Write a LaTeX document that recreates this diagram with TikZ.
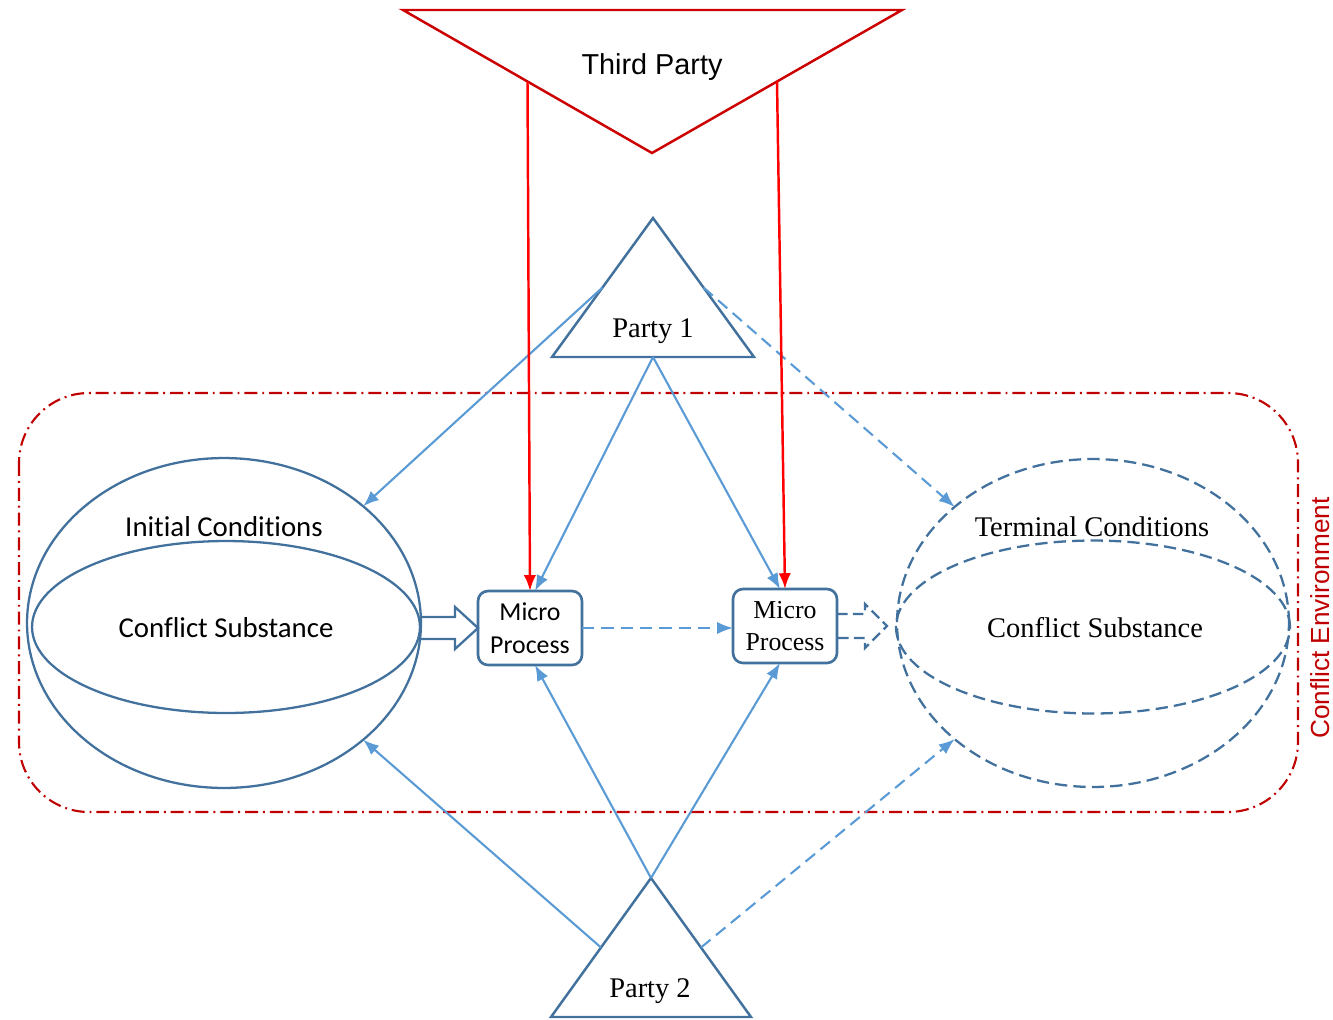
\documentclass[tikz,border=0pt]{standalone}
\usepackage{fontspec}
\setmainfont{Liberation Serif}
\newfontfamily\arialfont{Liberation Sans}
\newfontfamily\calibrifont[Ligatures=NoCommon]{Carlito}
\usetikzlibrary{shapes.geometric,arrows.meta,calc}

\definecolor{outlineblue}{RGB}{65,113,156}
\definecolor{arrowblue}{RGB}{91,155,213}
\definecolor{framered}{RGB}{192,0,0}
\definecolor{thirdred}{RGB}{204,0,0}

\begin{document}
\begin{tikzpicture}[x=0.02cm,y=-0.02cm,
    every node/.style={inner sep=0pt,outer sep=0pt},
    party/.style={draw=outlineblue,fill=white,line width=1.4pt},
    sphere/.style={ellipse,draw=outlineblue,line width=1.3pt},
    dsphere/.style={sphere,dash pattern=on 7pt off 3.5pt},
    microbox/.style={draw=outlineblue,fill=white,line width=1.5pt,rounded corners=0.2cm,
      minimum width=2.08cm,minimum height=1.48cm,align=center},
    link/.style={draw=arrowblue,line width=1.2pt,-{Latex[length=9pt,width=7pt]}},
    dlink/.style={link,dash pattern=on 7pt off 4pt},
    mediate/.style={draw=red,line width=1.4pt,-{Latex[length=9pt,width=7pt]}},
    hollow/.style={draw=outlineblue,line width=1.3pt},
    calibri/.style={font=\calibrifont\fontsize{16.4}{20}\selectfont},
    times/.style={font=\fontsize{16.2}{20}\selectfont},
  ]
  \useasboundingbox (0,0) rectangle (1333,1019);

  %% conflict environment
  \draw[framered,line width=1.2pt,rounded corners=1.4cm,
    dash pattern=on 7.4pt off 2.8pt on 1.1pt off 2.8pt] (19,393) rectangle (1298,812);
  \node[rotate=90,anchor=base,text=framered,
    font=\arialfont\fontsize{14.9}{18}\selectfont] (env) at (1329,618) {Conflict Environment};

  %% initial and terminal conditions
  \node[sphere,minimum width=7.88cm,minimum height=6.6cm] (ic) at (224,623) {};
  \node[sphere,minimum width=7.76cm,minimum height=3.44cm] (ics) at (226,627) {};
  \node[calibri,anchor=base] (ictext) at (224,536) {Initial Conditions};
  \node[calibri,anchor=base] (icstext) at (226,637) {Conflict Substance};

  \node[dsphere,minimum width=7.84cm,minimum height=6.56cm] (tc) at (1093,623) {};
  \node[dsphere,minimum width=7.88cm,minimum height=3.46cm] (tcs) at (1093,627) {};
  \node[times,anchor=base] (tctext) at (1092,536) {Terminal Conditions};
  \node[times,anchor=base] (tcstext) at (1095,637) {Conflict Substance};

  %% micro processes
  \node[microbox,font=\calibrifont\fontsize{14.7}{18.7}\selectfont] (mp1) at (530,628) {Micro\\Process};
  \node[microbox,font=\fontsize{14.7}{18.7}\selectfont] (mp2) at (785,626) {Micro\\Process};

  \draw[hollow] (mp1.west) ++(-58,-11) -- ++(35,0) -- ++(0,-10) -- (mp1.west)
    -- ++(-23,21) -- ++(0,-10) -- ++(-35,0);
  \draw[hollow,dash pattern=on 6pt off 3pt] (mp2.east) ++(0,-12) -- ++(28,0) -- ++(0,-10)
    -- ++(22,22) -- ++(-22,22) -- ++(0,-10) -- ++(-28,0);
  \draw[dlink] (mp1.east) -- (mp1.east -| mp2.west);

  %% parties
  \coordinate (p1a) at (653,218);
  \coordinate (p1l) at (552,357);
  \coordinate (p1r) at (754,357);
  \draw[party] (p1a) -- (p1l) -- (p1r) -- cycle;
  \node[times,anchor=base] (p1) at (653,337) {Party 1};
  \coordinate (p1w) at ($(p1a)!0.5!(p1l)$);
  \coordinate (p1e) at ($(p1a)!0.5!(p1r)$);
  \coordinate (p1m) at ($(p1l)!0.5!(p1r)$);

  \coordinate (p2a) at (651,878);
  \coordinate (p2l) at (551,1017);
  \coordinate (p2r) at (751,1017);
  \draw[party] (p2a) -- (p2l) -- (p2r) -- cycle;
  \node[times,anchor=base] (p2) at (650,997) {Party 2};
  \coordinate (p2w) at ($(p2a)!0.5!(p2l)$);
  \coordinate (p2e) at ($(p2a)!0.5!(p2r)$);

  \draw[link] (p1w) -- (ic.40);
  \draw[link] (p1m) -- ([xshift=0.1cm]mp1.north);
  \draw[link] (p1m) -- ([xshift=-0.1cm]mp2.north);
  \draw[dlink] (p1e) -- (tc.140);
  \draw[link] (p2w) -- (ic.-40);
  \draw[link] (p2a) -- ([xshift=0.1cm]mp1.south);
  \draw[link] (p2a) -- ([xshift=-0.1cm]mp2.south);
  \draw[dlink] (p2e) -- (tc.-140);

  %% third party
  \coordinate (tpl) at (403,10);
  \coordinate (tpr) at (902,10);
  \coordinate (tpb) at (652,153);
  \draw[thirdred,line width=1.4pt] (tpl) -- (tpr) -- (tpb) -- cycle;
  \node[anchor=base,font=\arialfont\fontsize{16.4}{20}\selectfont] (tp) at (652,74) {Third Party};
  \coordinate (tpw) at ($(tpl)!0.5!(tpb)$);
  \coordinate (tpe) at ($(tpr)!0.5!(tpb)$);

  \draw[mediate] (tpw) -- (mp1.north);
  \draw[mediate] (tpe) -- (mp2.north);
\end{tikzpicture}
\end{document}
